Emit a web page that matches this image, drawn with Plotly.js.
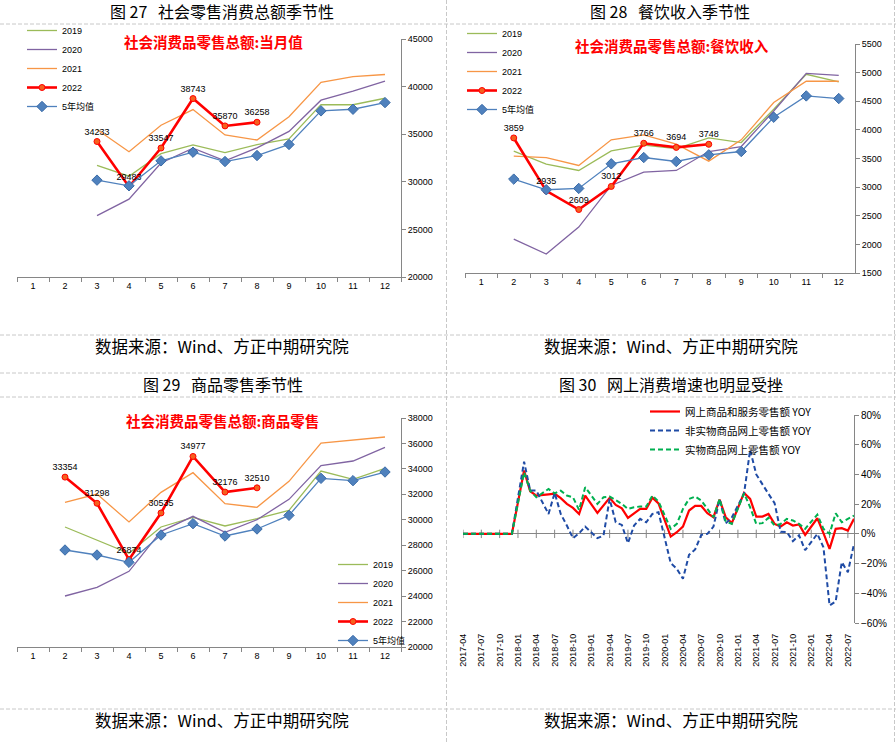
<!DOCTYPE html>
<html><head><meta charset="utf-8">
<script src="https://cdn.plot.ly/plotly-3.0.1.min.js"></script>
<style>html,body{margin:0;padding:0;background:#fff;}#chart{width:896px;height:742px;}</style>
</head><body><div id="chart"></div>
<script>
// ---------- data ----------
const months = ['1','2','3','4','5','6','7','8','9','10','11','12'];

// Fig 27: total retail sales, monthly value
const total2019 = [null,null,31726,30586,32956,33878,33073,33896,34495,38104,38094,38777];
const total2020 = [null,null,26450,28178,31973,33526,32203,33571,35295,38576,39514,40566];
const total2021 = [null,null,35484,33153,35945,37586,34925,34395,36833,40454,41043,41269];
const total2022 = [null,null,34233,29483,33547,38743,35870,36258,null,null,null,null];
const totalAvg5 = [null,null,30175,29580,32200,33110,32130,32760,33920,37450,37620,38320];

// Fig 28: catering revenue
const cater2019 = [null,3628,3401,3291,3634,3733,3674,3860,3779,4360,4971,4837];
const cater2020 = [null,2093,1831,2302,3029,3262,3291,3622,3709,4330,4988,4953];
const cater2021 = [null,3541,3517,3378,3826,3913,3750,3454,3826,4477,4849,4849];
const cater2022 = [null,3859,2935,2609,3012,3766,3694,3748,null,null,null,null];
const caterAvg5 = [null,3140,2954,2977,3407,3517,3448,3564,3622,4221,4593,4547];

// Fig 29: goods retail
const goods2019 = [null,29432,28384,27362,29432,30192,29511,30087,30742,33834,33179,34043];
const goods2020 = [null,24009,24690,25947,29091,30270,29013,30008,31607,34253,34620,35694];
const goods2021 = [null,31371,32026,29825,32157,33703,31266,30978,33021,36034,36296,36506];
const goods2022 = [null,33354,31298,26874,30535,34977,32176,32510,null,null,null,null];
const goodsAvg5 = [null,27624,27231,26655,28803,29694,28725,29275,30349,33257,33074,33755];

// Fig 30: online sales growth YoY (%)
const dates = ['2017-04','2017-05','2017-06','2017-07','2017-08','2017-09','2017-10','2017-11','2017-12',
 '2018-01','2018-02','2018-03','2018-04','2018-05','2018-06','2018-07','2018-08','2018-09','2018-10','2018-11','2018-12',
 '2019-01','2019-02','2019-03','2019-04','2019-05','2019-06','2019-07','2019-08','2019-09','2019-10','2019-11','2019-12',
 '2020-01','2020-02','2020-03','2020-04','2020-05','2020-06','2020-07','2020-08','2020-09','2020-10','2020-11','2020-12',
 '2021-01','2021-02','2021-03','2021-04','2021-05','2021-06','2021-07','2021-08','2021-09','2021-10','2021-11','2021-12',
 '2022-01','2022-02','2022-03','2022-04','2022-05','2022-06','2022-07','2022-08'];
const onlineAll = [0,0,0,0,0,0,0,0,0,
 null,42.6,28.7,25.8,26.4,26.6,27.0,24.0,20.2,17.5,13.4,25.8,
 null,14.1,19.0,24.2,19.5,17.2,10.8,14.1,16.8,16.8,24.4,20.5,
 null,-1.8,1.1,4.9,15.7,18.8,18.8,13.9,11.2,23.1,11.2,7.2,
 null,27.6,23.5,11.6,11.6,13.4,6.7,4.9,7.8,5.6,6.3,-0.7,
 null,10.5,0.5,-10.1,3.4,3.8,2.2,10.1];
const onlineNonPhysical = [0,0,0,0,0,0,0,0,0,
 null,48.6,29.1,29.1,21.3,13.4,27.6,13.4,5.6,-2.9,0.4,4.9,
 null,-2.9,-1.1,23.5,7.8,6.0,-6.3,5.6,10.1,7.8,13.4,14.6,
 null,-19.7,-23.5,-30.2,-14.1,-10.5,-0.7,0.0,4.9,23.3,7.0,11.0,
 null,27.0,56.5,40.0,33.0,26.9,20.7,1.4,1.3,-4.9,-1.0,-11.0,
 null,0.0,-9.0,-48.2,-45.5,-19.0,-25.8,-6.7];
const onlinePhysical = [0,0,0,0,0,0,0,0,0,
 null,41.4,29.1,24.6,27.3,30.2,27.3,29.1,25.8,24.6,16.1,31.4,
 null,20.2,24.6,25.1,22.4,20.2,16.8,17.9,18.4,18.4,25.8,21.8,
 null,3.4,6.7,16.8,23.5,25.1,22.4,16.8,11.2,23.5,8.5,6.7,
 null,27.3,17.9,6.7,7.2,10.8,5.6,6.7,10.1,9.0,6.7,3.4,
 null,13.0,3.4,0.0,13.9,7.8,10.1,12.3];
const dateTicks = ['2017-04','2017-07','2017-10','2018-01','2018-04','2018-07','2018-10','2019-01','2019-04','2019-07','2019-10',
 '2020-01','2020-04','2020-07','2020-10','2021-01','2021-04','2021-07','2021-10','2022-01','2022-04','2022-07'];

const seriesNames = ['2019','2020','2021','2022','5年均值'];
const onlineNames = ['网上商品和服务零售额 YOY','非实物商品网上零售额 YOY','实物商品网上零售额 YOY'];

// ---------- layout helpers ----------
const W = 896, H = 742;
const px = v => v / W;
const py = v => 1 - v / H;
const FONT = 'Liberation Sans, Arial, Noto Sans CJK SC, sans-serif';
const CJK = 'Noto Sans CJK SC, sans-serif';
const AX = '#868686';
const COLORS = {y19:'#9BBB59', y20:'#8064A2', y21:'#F79646', y22:'#FF0000', avg:'#4F81BD'};
const SP = '\u00a0\u00a0\u00a0';

function seasonTraces(vals, xa, ya, lg) {
  const [a,b,c,d,e] = vals;
  const common = {x: months, xaxis: xa, yaxis: ya, legend: lg, type: 'scatter', hoverinfo: 'skip', connectgaps: false};
  return [
    Object.assign({}, common, {y: a, name: seriesNames[0], mode: 'lines', line: {color: COLORS.y19, width: 1.3}}),
    Object.assign({}, common, {y: b, name: seriesNames[1], mode: 'lines', line: {color: COLORS.y20, width: 1.3}}),
    Object.assign({}, common, {y: c, name: seriesNames[2], mode: 'lines', line: {color: COLORS.y21, width: 1.3}}),
    Object.assign({}, common, {y: d, name: seriesNames[3], mode: 'lines+markers+text',
      line: {color: COLORS.y22, width: 2.6},
      marker: {symbol: 'circle', size: 6, color: '#F5601E', line: {color: '#FF0000', width: 1}},
      text: d.map(v => v == null ? '' : String(v)), textposition: 'top center',
      textfont: {family: FONT, size: 9, color: '#000'}, cliponaxis: false}),
    Object.assign({}, common, {y: e, name: seriesNames[4], mode: 'lines+markers',
      line: {color: COLORS.avg, width: 1.3},
      marker: {symbol: 'diamond', size: 8, color: '#4F81BD', line: {color: '#3B6CA8', width: 1}}})
  ];
}

const traces = [].concat(
  seasonTraces([total2019,total2020,total2021,total2022,totalAvg5], 'x', 'y', 'legend'),
  seasonTraces([cater2019,cater2020,cater2021,cater2022,caterAvg5], 'x2', 'y2', 'legend2'),
  seasonTraces([goods2019,goods2020,goods2021,goods2022,goodsAvg5], 'x3', 'y3', 'legend3'),
  [
    {x: dateTicks, y: dateTicks.map(() => 0), xaxis: 'x4', yaxis: 'y4', mode: 'markers', showlegend: false, hoverinfo: 'skip',
     marker: {symbol: 'line-ns', size: 6, line: {color: AX, width: 1}}},
    {x: dates, y: onlineAll, xaxis: 'x4', yaxis: 'y4', legend: 'legend4', name: onlineNames[0], mode: 'lines',
     connectgaps: true, line: {color: '#FF0000', width: 2.2}, hoverinfo: 'skip'},
    {x: dates, y: onlineNonPhysical, xaxis: 'x4', yaxis: 'y4', legend: 'legend4', name: onlineNames[1], mode: 'lines',
     connectgaps: true, line: {color: '#1F4BA5', width: 2, dash: '5px,3px'}, hoverinfo: 'skip'},
    {x: dates, y: onlinePhysical, xaxis: 'x4', yaxis: 'y4', legend: 'legend4', name: onlineNames[2], mode: 'lines',
     connectgaps: true, line: {color: '#00B050', width: 2, dash: '5px,3px'}, hoverinfo: 'skip'}
  ]
);

function catX(domain, anchor) {
  return {domain: domain, anchor: anchor, type: 'category', categoryorder: 'array', categoryarray: months,
    range: [-0.5, 11.5], showline: true, linecolor: AX, linewidth: 1, ticks: 'outside', tickson: 'boundaries',
    ticklen: 4, tickcolor: AX, tickfont: {family: FONT, size: 9, color: '#000'}, showgrid: false, zeroline: false, fixedrange: true};
}
function valY(domain, anchor, range, dtick) {
  return {domain: domain, anchor: anchor, side: 'right', range: range, dtick: dtick, tickformat: 'd',
    showline: true, linecolor: AX,
    linewidth: 1, ticks: 'outside', ticklen: 4, tickcolor: AX, tickfont: {family: FONT, size: 9, color: '#000'},
    showgrid: false, zeroline: false, fixedrange: true};
}
function legendAt(x, y) {
  return {x: px(x), y: py(y), xanchor: 'left', yanchor: 'top', bgcolor: 'rgba(0,0,0,0)', borderwidth: 0,
    font: {family: FONT, size: 9, color: '#000'}, tracegroupgap: 0, itemwidth: 30};
}

const dashLine = {color: '#C8C8C8', width: 1, dash: '4px,2px'};
const shapes = [24, 335, 373, 397, 709].map(y => ({type: 'line', xref: 'paper', yref: 'paper',
  x0: 0, x1: 1, y0: py(y), y1: py(y), line: dashLine}))
  .concat([446.5, 894.5].map(x => ({type: 'line', xref: 'paper', yref: 'paper',
  x0: px(x), x1: px(x), y0: 0, y1: 1, line: dashLine})));

function note(text, x, y, size, color, weight) {
  return {text: text, x: px(x), y: py(y), xref: 'paper', yref: 'paper', showarrow: false,
    xanchor: 'center', yanchor: 'middle', font: {family: CJK, size: size, color: color, weight: weight || 'normal'}};
}

const annotations = [
  note('图 27' + SP + '社会零售消费总额季节性', 222, 11, 16, '#000'),
  note('图 28' + SP + '餐饮收入季节性', 670, 11, 16, '#000'),
  note('图 29' + SP + '商品零售季节性', 223, 384, 16, '#000'),
  note('图 30' + SP + '网上消费增速也明显受挫', 671, 384, 16, '#000'),
  note('数据来源：Wind、方正中期研究院', 222, 346, 16.5, '#000'),
  note('数据来源：Wind、方正中期研究院', 671, 346, 16.5, '#000'),
  note('数据来源：Wind、方正中期研究院', 222, 720, 16.5, '#000'),
  note('数据来源：Wind、方正中期研究院', 671, 720, 16.5, '#000'),
  note('社会消费品零售总额:当月值', 213, 42, 14.5, '#FF0000', 'bold'),
  note('社会消费品零售总额:餐饮收入', 672, 46, 14.5, '#FF0000', 'bold'),
  note('社会消费品零售总额:商品零售', 222, 420, 14.5, '#FF0000', 'bold')
];

const layout = {
  width: W, height: H, autosize: false, margin: {l: 0, r: 0, t: 0, b: 0},
  paper_bgcolor: '#fff', plot_bgcolor: 'rgba(0,0,0,0)', font: {family: FONT, size: 9, color: '#000'},
  showlegend: true,
  xaxis: catX([px(17), px(401)], 'y'),
  yaxis: valY([py(277), py(39)], 'x', [20000, 45000], 5000),
  xaxis2: catX([px(465), px(855)], 'y2'),
  yaxis2: valY([py(273), py(44)], 'x2', [1500, 5500], 500),
  xaxis3: catX([px(17), px(401)], 'y3'),
  yaxis3: valY([py(647), py(418)], 'x3', [20000, 38000], 2000),
  xaxis4: {domain: [px(463), px(854)], anchor: 'y4', type: 'category', categoryorder: 'array', categoryarray: dates,
    range: [0, dates.length - 1], showline: false, ticks: '', tickvals: dateTicks, ticktext: dateTicks,
    tickangle: -90, ticklabelstandoff: 8, tickfont: {family: FONT, size: 9, color: '#000'},
    showgrid: false, zeroline: false, fixedrange: true},
  yaxis4: {domain: [py(623), py(415)], anchor: 'x4', side: 'right', range: [-60, 80], dtick: 20, ticksuffix: '%',
    showline: true, linecolor: AX, ticks: 'outside', ticklen: 4, tickcolor: AX,
    tickfont: {family: FONT, size: 10, color: '#000'}, showgrid: false,
    zeroline: true, zerolinecolor: AX, zerolinewidth: 1, fixedrange: true},
  legend: legendAt(22, 16),
  legend2: legendAt(462, 19),
  legend3: legendAt(333, 550),
  legend4: Object.assign(legendAt(645, 397), {font: {family: CJK, size: 10.5, color: '#000'}}),
  shapes: shapes,
  annotations: annotations
};

Plotly.newPlot('chart', traces, layout, {staticPlot: true, displayModeBar: false});
</script>
</body></html>
